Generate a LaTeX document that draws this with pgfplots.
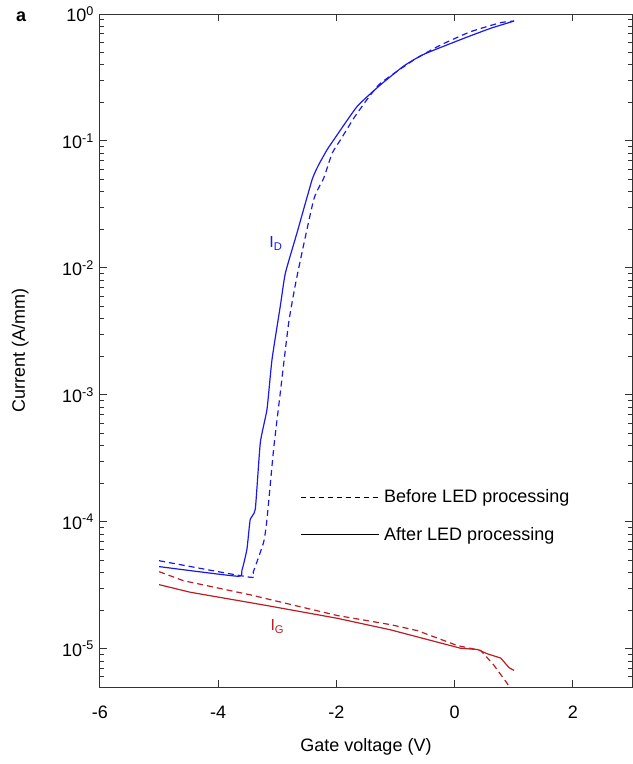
\documentclass[border=0pt]{standalone}
\usepackage{fontspec}
\setmainfont{Liberation Sans}
\usepackage{pgfplots}
\pgfplotsset{compat=1.18}

\definecolor{idblue}{RGB}{25,25,235}
\definecolor{igred}{RGB}{185,30,35}

\begin{document}
\fontsize{18bp}{22bp}\selectfont
\begin{tikzpicture}
\begin{semilogyaxis}[
    at={(0,0)}, anchor=south west,
    scale only axis, width=532bp, height=673bp,
    xmin=-6, xmax=3, ymin=5e-6, ymax=1,
    log basis y=10,
    xtick={-6,-4,-2,0,2}, xticklabels={-6,-4,-2,0,2},
    ytick={1e-5,1e-4,1e-3,1e-2,1e-1,1},
    minor ytick={6e-6,7e-6,8e-6,9e-6,
        2e-5,3e-5,4e-5,5e-5,6e-5,7e-5,8e-5,9e-5,
        2e-4,3e-4,4e-4,5e-4,6e-4,7e-4,8e-4,9e-4,
        2e-3,3e-3,4e-3,5e-3,6e-3,7e-3,8e-3,9e-3,
        2e-2,3e-2,4e-2,5e-2,6e-2,7e-2,8e-2,9e-2,
        0.2,0.3,0.4,0.5,0.6,0.7,0.8,0.9},
    yticklabel={10\textsuperscript{\pgfmathparse{int(round(\tick))}\pgfmathresult}},
    tick align=inside,
    xtick pos=both, ytick pos=both,
    major tick length=7bp, minor tick length=4bp,
    axis line style={line width=1bp, black!80},
    tick style={draw=black!80, line width=1bp},
    xticklabel style={yshift=-13bp},
    xlabel={Gate voltage (V)}, ylabel={Current (A/mm)},
    xlabel style={at={(axis description cs:0.5,-0.0895)}, anchor=center},
    ylabel style={at={(axis description cs:-0.150,0.5)}, anchor=center},
    legend image code/.code={\draw[#1, line width=1bp] (0bp,0bp) -- (78bp,0bp);},
    legend style={draw=none, fill=none, at={(rel axis cs:0.376,0.254)}, anchor=west,
        row sep=18bp, inner sep=0pt, font=\fontsize{18bp}{22bp}\selectfont,
        /tikz/every odd column/.append style={column sep=3bp}},
    legend cell align=left,
]
% I_D, after LED processing (solid)
\addplot[idblue, line width=1.2bp, smooth, tension=0.3, forget plot] coordinates {
(-5.0,4.44e-5)(-3.68,3.73e-5)(-3.60,4.13e-5)(-3.514,6.1e-5)(-3.458,1.05e-4)
(-3.373,1.26e-4)(-3.288,4.2e-4)(-3.175,7.7e-4)(-3.09,1.9e-3)(-2.95,5.0e-3)
(-2.864,9.1e-3)(-2.667,0.0189)(-2.412,0.0495)(-2.30,0.065)(-2.158,0.0853)
(-2.046,0.102)(-1.65,0.187)(-1.254,0.277)(-0.859,0.39)(-0.52,0.482)
(0.158,0.644)(0.61,0.772)(1.005,0.88)
};
% I_D, before LED processing (dashed)
\addplot[idblue, line width=1.2bp, smooth, tension=0.3, dash pattern=on 6bp off 4bp, forget plot] coordinates {
(-5.0,4.94e-5)(-3.458,3.66e-5)(-3.407,4.03e-5)(-3.232,6.9e-5)(-3.175,1.05e-4)
(-3.063,3.73e-4)(-2.95,1.04e-3)(-2.808,3.7e-3)(-2.667,8.6e-3)(-2.385,0.0345)
(-2.215,0.051)(-2.073,0.080)(-1.932,0.102)(-1.707,0.151)(-1.48,0.213)
(-1.254,0.285)(-0.69,0.435)(-0.237,0.570)(0.271,0.726)(0.78,0.855)(1.005,0.88)
};
% I_G, after LED processing (solid)
\addplot[igred, line width=1.2bp, forget plot] coordinates {
(-5.0,3.2e-5)(-4.475,2.79e-5)(-3.175,2.19e-5)(-1.99,1.74e-5)(-1.085,1.41e-5)
(0.10,1.01e-5)(0.385,9.87e-6)(0.554,9.13e-6)(0.78,8.45e-6)(0.92,7.1e-6)(1.005,6.75e-6)
};
% I_G, before LED processing (dashed)
\addplot[igred, line width=1.2bp, dash pattern=on 6bp off 4bp, forget plot] coordinates {
(-5.0,4.05e-5)(-4.59,3.44e-5)(-3.458,2.66e-5)(-1.99,1.83e-5)(-1.085,1.55e-5)
(-0.63,1.39e-5)(0.046,1.06e-5)(0.44,9.7e-6)(0.666,7.4e-6)(0.893,5.3e-6)(0.95,4.7e-6)
};
\addlegendimage{black, dash pattern=on 5bp off 4bp}
\addlegendentry{Before LED processing}
\addlegendimage{black}
\addlegendentry{After LED processing}

\node[anchor=base west, text=idblue, font=\fontsize{16bp}{19bp}\selectfont]
    at (axis cs:-3.24,0.0145) {I\textsubscript{D}};
\node[anchor=base west, text=igred, font=\fontsize{16bp}{19bp}\selectfont]
    at (axis cs:-3.22,1.39e-5) {I\textsubscript{G}};
\end{semilogyaxis}
\node[anchor=base west, font=\fontsize{18bp}{22bp}\selectfont\bfseries] at (-90bp,665bp) {a};
\pgfresetboundingbox
\useasboundingbox (-100bp,-77bp) rectangle (533bp,687bp);
\end{tikzpicture}
\end{document}
